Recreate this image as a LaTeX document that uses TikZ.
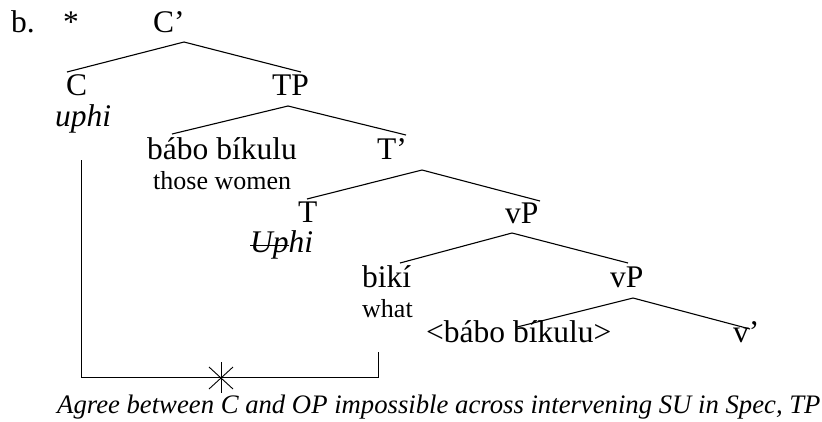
\documentclass[tikz,border=0pt]{standalone}
\usepackage{fontspec}
\setmainfont{Liberation Serif}
\usetikzlibrary{calc}
\begin{document}
\begin{tikzpicture}[x=1pt,y=-1pt,
  big/.style={inner sep=0pt,anchor=base west,font=\fontsize{31.5}{36}\selectfont},
  small/.style={inner sep=0pt,anchor=base west,font=\fontsize{26}{30}\selectfont},
  branch/.style={line width=1.1pt},
  agree/.style={line width=1pt}]
\useasboundingbox (0,0) rectangle (822,421);
% labels
\node[big] (b) at (11,32) {b.};
\node[big] (ast) at (63,32) {*};
\node[big] (Cbar) at (153,32) {C’};
\node[big] (C) at (66,95) {C};
\node[big] (TP) at (272,95) {TP};
\node[big] (uphi) at (55,126) {\itshape uphi};
\node[big] (subj) at (147,159) {bábo bíkulu};
\node[small] (women) at (153,189) {those women};
\node[big] (Tbar) at (377,159) {T’};
\node[big] (T) at (298,222) {T};
\node[big] (Uphi) at (250,252) {\itshape Uphi};
\node[big] (vP1) at (505,223) {vP};
\node[big] (biki) at (362,287) {bikí};
\node[small] (what) at (362,317) {what};
\node[big] (vP2) at (610,287) {vP};
\node[big] (trace) at (426,342) {<bábo bíkulu>};
\node[big] (vbar) at (733,342) {v’};
\node[small,font=\fontsize{26.7}{30}\selectfont\itshape] (note) at (57,413) {Agree between C and OP impossible across intervening SU in Spec, TP};
% strike-through
\coordinate (s1) at (250,245);
\coordinate (s2) at (289,245);
\draw[line width=1pt] (s1) -- (s2);
% tree coordinates
\coordinate (aC) at (184,42);
\coordinate (lC) at (67,72);
\coordinate (rC) at (301,72);
\coordinate (aTP) at (288,106);
\coordinate (lTP) at (172,134);
\coordinate (rTP) at (406,135);
\coordinate (aT) at (422,170);
\coordinate (lT) at (307,199);
\coordinate (rT) at (540,201);
\coordinate (av1) at (512,233);
\coordinate (lv1) at (400,263);
\coordinate (rv1) at (628,263);
\coordinate (av2) at (633,298);
\coordinate (lv2) at (517,327);
\coordinate (rv2) at (750,329);
\draw[branch] (lC) -- (aC) -- (rC);
\draw[branch] (lTP) -- (aTP) -- (rTP);
\draw[branch] (lT) -- (aT) -- (rT);
\draw[branch] (lv1) -- (av1) -- (rv1);
\draw[branch] (lv2) -- (av2) -- (rv2);
% agree bracket
\coordinate (k1) at (81,160);
\coordinate (k2) at (81,377);
\coordinate (k3) at (378,377);
\coordinate (k4) at (378,352);
\draw[agree] (k1) -- (k2) -- (k3) -- (k4);
% star
\coordinate (st) at (221,378);
\draw[line width=0.9pt] ($(st)+(0,-16)$) -- ($(st)+(0,15)$);
\draw[line width=0.9pt] ($(st)+(-12,-11)$) -- ($(st)+(12,11)$);
\draw[line width=0.9pt] ($(st)+(-12,11)$) -- ($(st)+(12,-11)$);
\end{tikzpicture}
\end{document}
